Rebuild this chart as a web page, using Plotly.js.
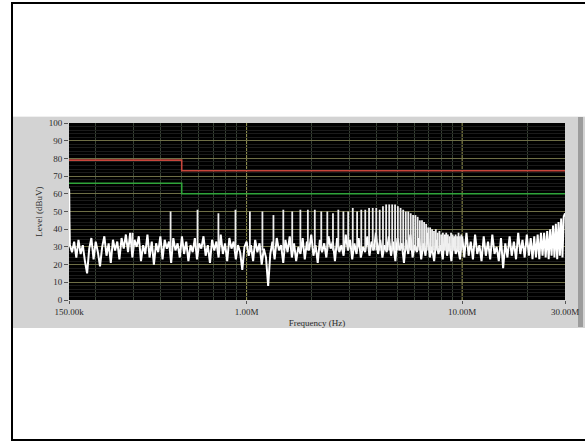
<!DOCTYPE html>
<html><head><meta charset="utf-8">
<script src="https://cdn.plot.ly/plotly-3.0.1.min.js"></script>
<style>
html,body{margin:0;padding:0;background:#fff;width:585px;height:443px;overflow:hidden;}
#frame{position:absolute;left:11px;top:2px;width:620px;height:435px;border:2px solid #000;}
#panel{position:absolute;left:13px;top:116px;width:572px;height:211px;background:#d3d3d3;border-top:1px solid #f0f0f0;}
#strip{position:absolute;left:578px;top:117px;width:5px;height:210px;background:#9c9c9c;}
#chart{position:absolute;left:0;top:0;width:585px;height:443px;}
</style></head>
<body>
<div id="frame"></div>
<div id="panel"></div>
<div id="strip"></div>
<div id="chart"></div>
<script>
// Frequencies in MHz, levels in dBuV
const noiseFreq = [
0.150,0.1503,0.1508,0.1514,0.1549,0.1585,0.1622,0.1660,0.1698,0.1738,
0.1778,0.1820,0.1862,0.1905,0.1950,0.1995,0.2042,0.2089,0.2138,0.2188,
0.2239,0.2291,0.2344,0.2399,0.2455,0.2512,0.2570,0.2630,0.2692,0.2754,
0.2818,0.2884,0.2951,0.3020,0.3090,0.3162,0.3236,0.3311,0.3388,0.3467,
0.3548,0.3631,0.3715,0.3802,0.3890,0.3981,0.4074,0.4169,0.4266,0.4365,
0.4467,0.4571,0.4677,0.4786,0.4898,0.5012,0.5129,0.5248,0.5370,0.5495,
0.5623,0.5754,0.5888,0.6026,0.6166,0.6310,0.6457,0.6607,0.6761,0.6918,
0.7079,0.7244,0.7413,0.7586,0.7762,0.7943,0.8128,0.8318,0.8511,0.8710,
0.8913,0.9120,0.9333,0.9550,0.9772,
1.000,1.023,1.047,1.072,1.096,1.122,1.148,1.175,1.202,1.230,
1.259,1.288,1.318,1.349,1.380,1.413,1.445,1.479,1.514,1.549,
1.585,1.622,1.660,1.698,1.738,1.778,1.820,1.862,1.905,1.950,
1.995,2.042,2.089,2.138,2.188,2.239,2.291,2.344,2.399,2.455,
2.512,2.570,2.630,2.692,2.754,2.818,2.884,2.951,3.020,3.090,
3.162,3.236,3.311,3.388,3.467,3.548,3.631,3.715,3.802,3.890,
3.981,4.074,4.169,4.266,4.365,4.467,4.571,4.677,4.786,4.898,
5.012,5.129,5.248,5.370,5.495,5.623,5.754,5.888,6.026,6.166,
6.310,6.457,6.607,6.761,6.918,7.079,7.244,7.413,7.586,7.762,
7.943,8.128,8.318,8.511,8.710,8.913,9.120,9.333,9.550,9.772,
10.00,10.23,10.47,10.72,10.96,11.22,11.48,11.75,12.02,12.30,
12.59,12.88,13.18,13.49,13.80,14.13,14.45,14.79,15.14,15.49,
15.85,16.22,16.60,16.98,17.38,17.78,18.20,18.62,19.05,19.50,
19.95,20.4,20.8,21.2,21.6,22.0,22.4,22.8,23.2,23.6,
24.0,24.4,24.8,25.2,25.6,26.0,26.4,26.8,27.2,27.6,
28.0,28.4,28.8,29.2,29.6,30.0
];
const noiseLevel = [
63,61,44,31,27,33,24,34,26,31,
22,15,29,35,23,33,27,19,30,36,
25,32,21,34,28,33,23,35,29,37,
27,38,24,34,30,36,22,31,26,37,
24,33,20,32,27,36,23,34,29,33,
21,35,28,32,24,36,26,33,22,31,
27,35,23,32,29,36,25,31,21,34,
28,33,24,37,26,32,22,35,29,33,
23,31,27,17,30,
33,25,31,22,34,27,32,20,29,24,
8,26,33,23,35,28,31,21,34,27,
36,24,32,22,30,26,35,23,33,28,
37,25,31,21,34,27,32,24,36,29,
33,22,35,27,31,25,37,28,34,23,
32,26,35,24,30,27,36,25,33,28,
38,26,34,24,31,27,36,25,33,22,
35,28,32,21,34,26,37,24,31,27,
35,23,32,25,38,24,30,22,34,26,
31,23,37,25,32,22,35,26,30,23,
36,24,38,25,33,23,37,26,31,22,
36,25,33,23,37,26,30,22,35,18,
32,24,36,25,33,23,38,26,34,24,
37,25,35,23,36,24,37,23,38,25,
38,24,39,23,40,25,42,24,43,23,
44,25,46,24,47,49
];
// Harmonic spikes (MHz, peak dBuV)
const spikeFreq = [
0.296,0.444,0.592,0.740,0.888,1.036,1.184,1.332,1.480,1.628,
1.776,1.924,2.072,2.220,2.368,2.516,2.664,2.812,2.960,3.108,
3.256,3.404,3.552,3.700,3.848,3.996,4.144,4.292,4.440,4.588,
4.736,4.884,5.032,5.180,5.328,5.476,5.624,5.772,5.920,6.068,
6.216,6.364,6.512,6.660,6.808,6.956,7.104,7.252,7.400,7.548,
7.696,7.844,7.992,8.140,8.288,8.436,8.584,8.732,8.880,9.028,
9.176,9.324,9.472,9.620,9.768,9.916
];
const spikeLevel = [
38,50,51,49,51,50,50,48,51,50,
51,51,51,50,50,49,51,50,50,52,
50,51,51,52,52,52,51,53,54,54,
54,54,53,52,51,50,50,49,48,48,
47,45,45,44,43,41,41,40,39,40,
38,39,37,38,36,38,37,36,38,37,
36,37,36,38,36,37
];
const spikeBase = 28;
// Limit lines
const limitFreq = [0.15, 0.5, 0.5, 30];
const qpLimit = [79, 79, 73, 73];
const avLimit = [66, 66, 60, 60];
// Axis ticks
const xTickVals = [0.15, 1, 10, 30];
const xTickText = ['150.00k', '1.00M', '10.00M', '30.00M'];
const xMinorVals = [0.2,0.3,0.4,0.5,0.6,0.7,0.8,0.9,2,3,4,5,6,7,8,9,20];
const xMajorGrid = [1, 10];
const yTickVals = [0,10,20,30,40,50,60,70,80,90,100];

const sx = [], sy = [];
spikeFreq.forEach((f, i) => { sx.push(f, f, null); sy.push(spikeBase, spikeLevel[i], null); });

const traces = [
  {x: limitFreq, y: qpLimit, mode: 'lines', line: {color: '#c8463c', width: 1.6}, hoverinfo: 'skip'},
  {x: limitFreq, y: avLimit, mode: 'lines', line: {color: '#2fa43a', width: 1.6}, hoverinfo: 'skip'},
  {x: noiseFreq, y: noiseLevel, mode: 'lines', line: {color: '#ffffff', width: 2}},
  {x: sx, y: sy, mode: 'lines', line: {color: '#eeeeee', width: 1.8}, connectgaps: false}
];

const layout = {
  width: 585, height: 443,
  margin: {l: 69, r: 20, t: 123, b: 143, pad: 0},
  paper_bgcolor: 'rgba(0,0,0,0)', plot_bgcolor: '#000000',
  showlegend: false,
  font: {family: 'Liberation Serif, Times New Roman, serif', size: 9, color: '#2a2a2a'},
  xaxis: {
    type: 'log', range: [Math.log10(0.15), Math.log10(30)],
    tickmode: 'array', tickvals: xTickVals, ticktext: xTickText,
    ticks: 'outside', ticklen: 3, tickcolor: '#555', showgrid: false,
    zeroline: false, showline: false,
    minor: {tickmode: 'array', tickvals: xMinorVals, showgrid: true, gridcolor: '#364033', gridwidth: 1, ticks: ''},
    title: {text: 'Frequency (Hz)', font: {size: 9, color: '#2a2a2a'}, standoff: 3}
  },
  yaxis: {
    range: [0, 100], tickmode: 'array', tickvals: yTickVals,
    ticks: 'outside', ticklen: 4, tickcolor: '#555',
    showgrid: true, gridcolor: '#6e6e46', gridwidth: 1,
    minor: {dtick: 2, showgrid: true, gridcolor: '#1b1b1b', gridwidth: 1, ticks: ''},
    zeroline: false, showline: false,
    title: {text: 'Level (dBuV)', font: {size: 9, color: '#2a2a2a'}, standoff: 4}
  },
  shapes: xMajorGrid.map(v => ({type: 'line', xref: 'x', yref: 'paper', x0: v, x1: v, y0: 0, y1: 1,
    layer: 'between', line: {color: '#9a9a55', width: 1}}))
};

Plotly.newPlot('chart', traces, layout, {staticPlot: true, displayModeBar: false});
</script>
</body></html>
